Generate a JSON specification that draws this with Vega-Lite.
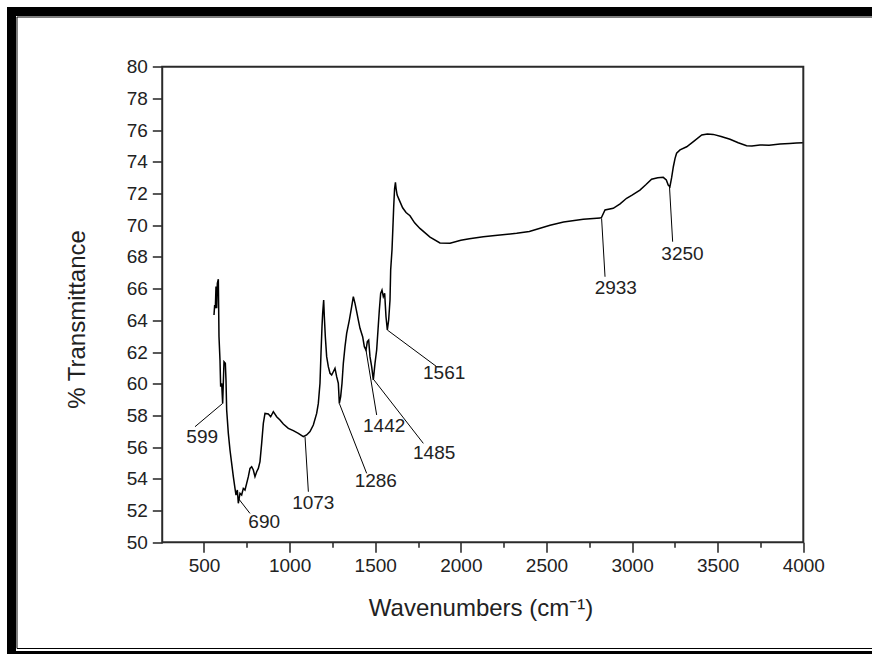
{
  "$schema": "https://vega.github.io/schema/vega-lite/v6.json",
  "width": 880.5,
  "height": 644,
  "autosize": {"type": "none"},
  "padding": {"left": 11.5, "top": 11.5, "right": -20, "bottom": -1.5},
  "background": "white",
  "config": {
    "view": {"stroke": "black", "strokeWidth": 9, "fill": "white"},
    "font": "Liberation Sans"
  },
  "datasets": {
    "spectrum": [
      {"wn":558.4,"t":64.34},{"wn":562.3,"t":64.97},{"wn":566.2,"t":64.76},{"wn":570.1,"t":66.13},{"wn":574,"t":64.76},
      {"wn":577.9,"t":66.33},{"wn":583.7,"t":66.59},{"wn":587.6,"t":62.97},{"wn":593.4,"t":61.5},{"wn":597.3,"t":59.82},
      {"wn":603.2,"t":60.03},{"wn":609,"t":58.76},{"wn":616.8,"t":61.39},{"wn":624.6,"t":61.29},{"wn":628.5,"t":60.24},
      {"wn":632.4,"t":58.34},{"wn":642.1,"t":56.87},{"wn":651.8,"t":55.82},{"wn":661.6,"t":54.98},{"wn":671.3,"t":54.14},
      {"wn":681,"t":53.4},{"wn":686.9,"t":52.98},{"wn":694.7,"t":53.3},{"wn":700.5,"t":52.46},{"wn":710.2,"t":53.09},
      {"wn":720,"t":52.98},{"wn":729.7,"t":53.4},{"wn":739.4,"t":53.3},{"wn":749.2,"t":53.72},{"wn":758.9,"t":54.14},
      {"wn":768.6,"t":54.66},{"wn":778.4,"t":54.77},{"wn":788.1,"t":54.56},{"wn":797.8,"t":54.14},{"wn":807.6,"t":54.45},
      {"wn":817.3,"t":54.66},{"wn":827,"t":55.09},{"wn":836.8,"t":56.24},{"wn":846.5,"t":57.5},{"wn":856.2,"t":58.13},
      {"wn":875.7,"t":58.09},{"wn":889.3,"t":57.92},{"wn":904.9,"t":58.24},{"wn":924.4,"t":57.92},{"wn":943.8,"t":57.71},
      {"wn":963.3,"t":57.46},{"wn":992.5,"t":57.19},{"wn":1021.7,"t":57.04},{"wn":1050.9,"t":56.87},{"wn":1080.1,"t":56.66},
      {"wn":1099.6,"t":56.77},{"wn":1119,"t":56.98},{"wn":1138.5,"t":57.4},{"wn":1158,"t":58.13},{"wn":1167.7,"t":58.76},
      {"wn":1177.4,"t":60.03},{"wn":1183.3,"t":61.92},{"wn":1189.1,"t":63.6},{"wn":1193,"t":64.44},{"wn":1198.9,"t":65.28},
      {"wn":1202.8,"t":64.23},{"wn":1208.6,"t":62.97},{"wn":1216.4,"t":61.71},{"wn":1226.1,"t":61.08},{"wn":1235.9,"t":60.66},
      {"wn":1245.6,"t":60.55},{"wn":1255.3,"t":60.76},{"wn":1265,"t":60.97},{"wn":1274.8,"t":60.45},{"wn":1284.5,"t":60.03},
      {"wn":1290.4,"t":58.76},{"wn":1298.2,"t":59.19},{"wn":1306,"t":60.03},{"wn":1313.7,"t":61.29},{"wn":1323.5,"t":62.34},
      {"wn":1333.2,"t":63.18},{"wn":1348.8,"t":64.02},{"wn":1362.4,"t":64.86},{"wn":1372.1,"t":65.49},{"wn":1381.9,"t":65.07},
      {"wn":1391.6,"t":64.55},{"wn":1401.3,"t":64.02},{"wn":1411.1,"t":63.5},{"wn":1426.6,"t":62.97},{"wn":1436.4,"t":62.34},
      {"wn":1446.1,"t":62.13},{"wn":1453.9,"t":62.66},{"wn":1461.7,"t":62.76},{"wn":1469.4,"t":61.71},{"wn":1479.2,"t":61.08},
      {"wn":1488.9,"t":60.24},{"wn":1498.6,"t":61.29},{"wn":1508.4,"t":62.13},{"wn":1516.2,"t":63.39},{"wn":1524,"t":64.65},
      {"wn":1531.7,"t":65.7},{"wn":1539.5,"t":65.91},{"wn":1547.3,"t":65.49},{"wn":1555.1,"t":65.7},{"wn":1562.9,"t":64.23},
      {"wn":1570.7,"t":63.39},{"wn":1578.5,"t":64.02},{"wn":1586.3,"t":65.28},{"wn":1590.2,"t":67.18},{"wn":1597.9,"t":68.44},
      {"wn":1603,"t":69.8},{"wn":1608,"t":71.2},{"wn":1613,"t":72.3},{"wn":1618,"t":72.7},{"wn":1622,"t":72.3},
      {"wn":1628,"t":71.9},{"wn":1640,"t":71.6},{"wn":1660,"t":71.1},{"wn":1680,"t":70.8},{"wn":1703,"t":70.6},
      {"wn":1730,"t":70.15},{"wn":1761,"t":69.8},{"wn":1820,"t":69.25},{"wn":1878,"t":68.88},{"wn":1937,"t":68.86},
      {"wn":2000,"t":69.05},{"wn":2050,"t":69.15},{"wn":2131,"t":69.28},{"wn":2200,"t":69.35},{"wn":2326,"t":69.49},
      {"wn":2400,"t":69.6},{"wn":2521,"t":70.0},{"wn":2600,"t":70.2},{"wn":2715,"t":70.37},{"wn":2813,"t":70.45},
      {"wn":2822,"t":70.5},{"wn":2842,"t":70.96},{"wn":2890,"t":71.07},{"wn":2930,"t":71.35},{"wn":2968,"t":71.7},
      {"wn":3000,"t":71.9},{"wn":3046,"t":72.22},{"wn":3080,"t":72.55},{"wn":3114,"t":72.9},{"wn":3150,"t":73.0},
      {"wn":3182,"t":73.02},{"wn":3200,"t":72.85},{"wn":3211,"t":72.54},{"wn":3221,"t":72.43},{"wn":3231,"t":73.0},
      {"wn":3241,"t":73.69},{"wn":3251,"t":74.22},{"wn":3260,"t":74.54},{"wn":3280,"t":74.75},{"wn":3319,"t":74.95},
      {"wn":3358,"t":75.27},{"wn":3407,"t":75.69},{"wn":3440,"t":75.75},{"wn":3474,"t":75.73},{"wn":3520,"t":75.6},
      {"wn":3572,"t":75.42},{"wn":3620,"t":75.2},{"wn":3669,"t":75.02},{"wn":3700,"t":75.0},{"wn":3747,"t":75.06},
      {"wn":3800,"t":75.05},{"wn":3864,"t":75.12},{"wn":3920,"t":75.15},{"wn":3960,"t":75.18},{"wn":4000,"t":75.21}
    ],
    "peaks": [
      {"label":"599","x1":609,"y1":58.76,"x2":447.4,"y2":57.29,"lx":489.5,"ly":56.67},
      {"label":"690","x1":700.5,"y1":52.77,"x2":768.6,"y2":51.82,"lx":851.6,"ly":51.25},
      {"label":"1073","x1":1090,"y1":56.66,"x2":1109.5,"y2":53.19,"lx":1138.4,"ly":52.51},
      {"label":"1286","x1":1290.4,"y1":58.76,"x2":1450,"y2":54.35,"lx":1503.4,"ly":53.88},
      {"label":"1442","x1":1446,"y1":62.13,"x2":1508.4,"y2":58.03,"lx":1552.3,"ly":57.35},
      {"label":"1485","x1":1492.8,"y1":60.24,"x2":1780.9,"y2":56.24,"lx":1844.3,"ly":55.66},
      {"label":"1561","x1":1570.7,"y1":63.39,"x2":1858.8,"y2":61.08,"lx":1902.7,"ly":60.71},
      {"label":"2933","x1":2822,"y1":70.44,"x2":2842,"y2":66.75,"lx":2905,"ly":66.07},
      {"label":"3250","x1":3218,"y1":72.54,"x2":3237,"y2":68.96,"lx":3294.5,"ly":68.17}
    ]
  },
  "layer": [
    {
      "data": {"name": "spectrum"},
      "mark": {"type": "line", "color": "black", "strokeWidth": 1.5},
      "encoding": {
        "x": {
          "field": "wn", "type": "quantitative",
          "scale": {"domain": [-624.2, 4518], "nice": false, "zero": false},
          "axis": {
            "orient": "bottom", "offset": -113.2, "domain": false, "grid": false,
            "values": [500,750,1000,1250,1500,1750,2000,2250,2500,2750,3000,3250,3500,3750,4000],
            "format": "d",
            "labelExpr": "datum.value % 500 === 0 ? datum.label : ''",
            "tickSize": {"condition": {"test": "datum.value % 500 !== 0", "value": 5}, "value": 10},
            "tickColor": "#222", "tickWidth": 1.5,
            "labelFont": "Liberation Sans", "labelFontSize": 19, "labelColor": "#222",
            "labelPadding": 4, "labelOverlap": false, "labelFlush": false,
            "title": "Wavenumbers (cm⁻¹)", "titleFont": "Liberation Sans", "titleFontSize": 24,
            "titleFontWeight": "normal", "titleColor": "#222",
            "titleX": 469, "titleY": 72.7, "titleBaseline": "alphabetic", "titleAlign": "center"
          }
        },
        "y": {
          "field": "t", "type": "quantitative",
          "scale": {"domain": [42.859, 83.482], "nice": false, "zero": false},
          "axis": {
            "orient": "left", "offset": -150.8, "domain": false, "grid": false,
            "values": [50,51,52,53,54,55,56,57,58,59,60,61,62,63,64,65,66,67,68,69,70,71,72,73,74,75,76,77,78,79,80],
            "format": "d",
            "labelExpr": "datum.value % 2 === 0 ? datum.label : ''",
            "tickSize": {"condition": {"test": "datum.value % 2 !== 0", "value": 5}, "value": 10},
            "tickColor": "#222", "tickWidth": 1.5,
            "labelFont": "Liberation Sans", "labelFontSize": 19, "labelColor": "#222",
            "labelPadding": 5, "labelOverlap": false, "labelFlush": false,
            "title": "% Transmittance", "titleFont": "Liberation Sans", "titleFontSize": 24,
            "titleFontWeight": "normal", "titleColor": "#222", "titleAngle": 270,
            "titleX": -78.3, "titleY": 307.5, "titleBaseline": "alphabetic", "titleAlign": "center"
          }
        }
      }
    },
    {
      "data": {"values": [{}]},
      "mark": {"type": "rect", "filled": false, "stroke": "black", "strokeWidth": 1},
      "encoding": {
        "x": {"datum": -592.1, "type": "quantitative"},
        "x2": {"datum": 4600},
        "y": {"datum": 83.135, "type": "quantitative"},
        "y2": {"datum": 43.3}
      }
    },
    {
      "data": {"values": [{}]},
      "mark": {"type": "rect", "filled": false, "stroke": "#2a2a2a", "strokeWidth": 2},
      "encoding": {
        "x": {"datum": 256, "type": "quantitative"},
        "x2": {"datum": 4000},
        "y": {"datum": 50, "type": "quantitative"},
        "y2": {"datum": 80}
      }
    },
    {
      "data": {"name": "peaks"},
      "mark": {"type": "rule", "color": "black", "strokeWidth": 1},
      "encoding": {
        "x": {"field": "x1", "type": "quantitative"},
        "y": {"field": "y1", "type": "quantitative"},
        "x2": {"field": "x2"},
        "y2": {"field": "y2"}
      }
    },
    {
      "data": {"name": "peaks"},
      "mark": {"type": "text", "align": "center", "baseline": "middle", "fontSize": 19, "font": "Liberation Sans", "color": "#222"},
      "encoding": {
        "x": {"field": "lx", "type": "quantitative"},
        "y": {"field": "ly", "type": "quantitative"},
        "text": {"field": "label"}
      }
    }
  ]
}
